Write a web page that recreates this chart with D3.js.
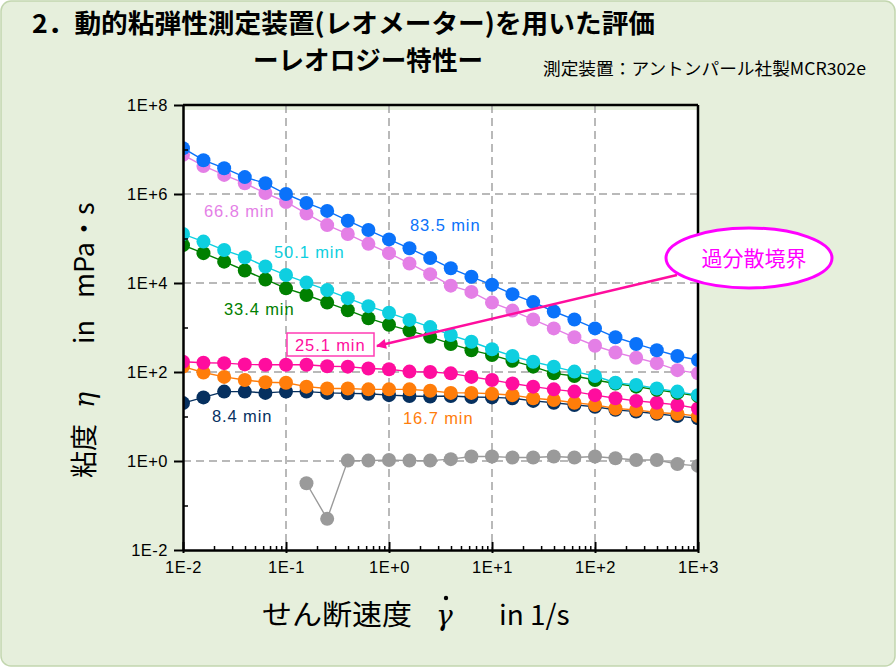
<!DOCTYPE html>
<html>
<head>
<meta charset="utf-8">
<script src="https://cdn.jsdelivr.net/npm/d3@7"></script>
<style>
  body { margin: 0; background: #fff; }
  svg { display: block; }
</style>
</head>
<body>
<svg id="chart" width="896" height="667"></svg>
<script>
// shear rate grid (1/s), 5 points per decade
const shearRate = [0.01, 0.0158, 0.0251, 0.0398, 0.0631, 0.1, 0.158, 0.251, 0.398, 0.631,
  1, 1.58, 2.51, 3.98, 6.31, 10, 15.8, 25.1, 39.8, 63.1, 100, 158, 251, 398, 631, 1000];

// viscosity (mPa·s), one array per elapsed time
const viscGray = [null, null, null, null, null, null, 0.316, 0.0501, 1.02, 1.02, 1.05, 1.02, 1.02,
  1.10, 1.26, 1.26, 1.20, 1.20, 1.26, 1.20, 1.26, 1.15, 1.05, 1.05, 0.851, 0.776];
const visc8_4 = [20.0, 26.9, 36.3, 36.3, 33.9, 36.3, 36.3, 33.9, 33.1, 32.4, 30.2, 28.8, 28.2,
  28.8, 27.5, 26.9, 25.7, 22.4, 20.4, 18.2, 16.6, 14.1, 12.9, 11.5, 10.2, 9.12];
const visc16_7 = [132, 97.7, 77.6, 66.1, 58.9, 57.5, 46.8, 42.7, 42.7, 40.7, 40.7, 40.7, 38.0,
  33.9, 33.9, 32.4, 30.2, 25.7, 23.4, 20.4, 18.2, 15.1, 14.1, 12.3, 11.5, 10.2];
const visc25_1 = [170, 162, 158, 148, 145, 145, 145, 135, 132, 120, 115, 102, 100,
  93.3, 77.6, 66.1, 55.0, 46.8, 40.7, 36.3, 30.2, 25.7, 22.4, 20.4, 18.2, 15.1];
const visc33_4 = [70800, 46800, 30200, 19100, 12000, 7590, 5370, 3630, 2450, 1620, 1150, 851, 617,
  427, 309, 240, 178, 132, 93.3, 81.3, 66.1, 55.0, 46.8, 39.8, 33.9, 28.8];
const visc50_1 = [126000, 85100, 55000, 38000, 23400, 15100, 10200, 6920, 4570, 3020, 2140, 1480, 1020,
  676, 479, 324, 229, 170, 132, 102, 81.3, 57.5, 51.3, 42.7, 36.3, 30.2];
const visc66_8 = [7590000, 4270000, 2690000, 1740000, 1050000, 661000, 363000, 200000, 126000, 75900, 46800, 27500, 15800,
  8710, 6310, 3630, 2400, 1510, 955, 603, 389, 275, 209, 158, 110, 93.3];
const visc83_5 = [10700000, 5750000, 3800000, 2400000, 1740000, 1000000, 631000, 417000, 251000, 155000, 95500, 60300, 36300,
  21400, 13800, 9120, 5620, 3720, 2290, 1510, 955, 603, 427, 309, 229, 186];

const seriesNames = ["", "8.4 min", "16.7 min", "25.1 min", "33.4 min", "50.1 min", "66.8 min", "83.5 min"];
const seriesValues = [viscGray, visc8_4, visc16_7, visc25_1, visc33_4, visc50_1, visc66_8, visc83_5];
const seriesColors = ["#9a9a9a", "#06305f", "#ff7d0a", "#ff0d9e", "#008000", "#0ecfe0", "#e47fe6", "#0a72fa"];

const xDecades = [0.01, 0.1, 1, 10, 100, 1000];
const yDecades = [1e-2, 1e-1, 1e0, 1e1, 1e2, 1e3, 1e4, 1e5, 1e6, 1e7, 1e8];

const pLeft = 183, pRight = 698, pTop = 105, pBottom = 550;

const svg = d3.select("#chart");

svg.append("rect")
  .attr("x", 1).attr("y", 1).attr("width", 894).attr("height", 665).attr("rx", 10)
  .attr("fill", "#e6efdc").attr("stroke", "#c2d6ae").attr("stroke-width", 1.5);

// titles
const jp = "'Noto Sans CJK JP', sans-serif";
svg.append("text").attr("x", 32).attr("y", 33)
  .attr("font-family", jp).attr("font-weight", "bold").attr("font-size", 26)
  .attr("textLength", 623).attr("lengthAdjust", "spacingAndGlyphs")
  .text("2．動的粘弾性測定装置(レオメーター)を用いた評価");
svg.append("text").attr("x", 253).attr("y", 70)
  .attr("font-family", jp).attr("font-weight", "bold").attr("font-size", 26)
  .attr("textLength", 230).attr("lengthAdjust", "spacingAndGlyphs")
  .text("ーレオロジー特性ー");
svg.append("text").attr("x", 543).attr("y", 75)
  .attr("font-family", jp).attr("font-size", 17)
  .attr("textLength", 323).attr("lengthAdjust", "spacingAndGlyphs")
  .text("測定装置：アントンパール社製MCR302e");

const x = d3.scaleLog().domain([0.01, 1000]).range([pLeft, pRight]);
const y = d3.scaleLog().domain([1e-2, 1e8]).range([pBottom, pTop]);

svg.append("rect")
  .attr("x", pLeft).attr("y", pTop + 5).attr("width", pRight - pLeft).attr("height", pBottom - pTop - 5)
  .attr("fill", "#fff");

// dashed grid
const grid = svg.append("g").attr("stroke", "#a3a3a3").attr("stroke-width", 1.5).attr("stroke-dasharray", "8,5");
grid.selectAll("line.gx").data(xDecades.slice(1, -1)).enter().append("line")
  .attr("x1", d => x(d)).attr("x2", d => x(d)).attr("y1", pTop).attr("y2", pBottom);
grid.selectAll("line.gy").data(yDecades.filter((d, i) => i % 2 == 0 && i > 0 && i < 10)).enter().append("line")
  .attr("y1", d => y(d)).attr("y2", d => y(d)).attr("x1", pLeft).attr("x2", pRight);

// series
const defs = svg.append("defs");
defs.append("clipPath").attr("id", "plotClip")
  .append("rect").attr("x", pLeft).attr("y", pTop).attr("width", pRight - pLeft).attr("height", pBottom - pTop);

const plot = svg.append("g").attr("clip-path", "url(#plotClip)");
const line = d3.line()
  .defined(d => d[1] != null)
  .x(d => x(d[0]))
  .y(d => y(d[1]));

seriesValues.forEach((vals, k) => {
  const pts = shearRate.map((r, i) => [r, vals[i]]);
  const g = plot.append("g");
  g.append("path").datum(pts)
    .attr("d", line).attr("fill", "none")
    .attr("stroke", seriesColors[k]).attr("stroke-width", 1.4);
  g.selectAll("circle").data(pts.filter(d => d[1] != null)).enter().append("circle")
    .attr("cx", d => x(d[0])).attr("cy", d => y(d[1])).attr("r", 7)
    .attr("fill", seriesColors[k]);
});

// axes
const fmt = d => {
  const e = Math.round(Math.log10(d));
  return "1E" + (e < 0 ? "-" : "+") + Math.abs(e);
};
const tickFont = "'Liberation Sans', Arial, sans-serif";

const xMinor = [];
xDecades.slice(0, -1).forEach(d => { for (let m = 2; m <= 9; m++) xMinor.push(d * m); });

svg.append("g").attr("transform", `translate(0,${pBottom})`)
  .call(d3.axisTop(x).tickValues(xMinor).tickSize(4).tickFormat(""))
  .call(g => g.select(".domain").remove())
  .call(g => g.selectAll("line").attr("stroke-width", 1.5));
svg.append("g").attr("transform", `translate(0,${pBottom})`)
  .call(d3.axisTop(x).tickValues(xDecades).tickSize(8).tickFormat(""))
  .call(g => g.select(".domain").remove())
  .call(g => g.selectAll("line").attr("stroke-width", 2));
svg.append("g").attr("transform", `translate(0,${pBottom})`)
  .call(d3.axisBottom(x).tickValues(xDecades).tickSize(3).tickSizeOuter(0).tickPadding(8).tickFormat(fmt))
  .call(g => g.select(".domain").attr("stroke-width", 2.5))
  .call(g => g.selectAll("line").attr("stroke-width", 2))
  .call(g => g.selectAll("text").attr("font-family", tickFont).attr("font-size", 16.5).attr("letter-spacing", 0.5).attr("fill", "#000"));

svg.append("g").attr("transform", `translate(${pLeft},0)`)
  .call(d3.axisRight(y).tickValues(yDecades.filter((d, i) => i % 2 == 1)).tickSize(5).tickFormat(""))
  .call(g => g.select(".domain").remove())
  .call(g => g.selectAll("line").attr("stroke-width", 1.5));
svg.append("g").attr("transform", `translate(${pLeft},0)`)
  .call(d3.axisLeft(y).tickValues(yDecades.filter((d, i) => i % 2 == 0)).tickSize(9).tickSizeOuter(0).tickPadding(6).tickFormat(fmt))
  .call(g => g.select(".domain").attr("stroke-width", 2.5))
  .call(g => g.selectAll("line").attr("stroke-width", 2))
  .call(g => g.selectAll("text").attr("font-family", tickFont).attr("font-size", 16.5).attr("letter-spacing", 0.5).attr("fill", "#000"));

// frame top/right
svg.append("line").attr("x1", pLeft).attr("x2", pRight).attr("y1", pTop).attr("y2", pTop)
  .attr("stroke", "#000").attr("stroke-width", 2.5);
svg.append("line").attr("x1", pRight).attr("x2", pRight).attr("y1", pTop).attr("y2", pBottom)
  .attr("stroke", "#000").attr("stroke-width", 2.5);

// series labels
const labelPos = [null, [212, 422], [403, 424], [295, 351], [224, 315], [274, 258], [204, 217], [410, 231]];
svg.append("rect").attr("x", 287).attr("y", 333).attr("width", 87).attr("height", 23)
  .attr("fill", "#fff").attr("stroke", "#ff3cb4").attr("stroke-width", 1.5);
seriesNames.forEach((name, k) => {
  if (!labelPos[k]) return;
  svg.append("text")
    .attr("x", labelPos[k][0]).attr("y", labelPos[k][1])
    .attr("font-family", tickFont).attr("font-size", 16.5).attr("letter-spacing", 0.9)
    .attr("fill", seriesColors[k])
    .text(name);
});

// callout
defs.append("marker")
  .attr("id", "arrow").attr("viewBox", "0 -5 10 10")
  .attr("refX", 9).attr("refY", 0)
  .attr("markerWidth", 12).attr("markerHeight", 10).attr("markerUnits", "userSpaceOnUse")
  .attr("orient", "auto")
  .append("path").attr("d", "M0,-5L10,0L0,5").attr("fill", "#ff0d9e");
svg.append("line").attr("x1", 677).attr("y1", 275).attr("x2", 377).attr("y2", 346)
  .attr("stroke", "#ff0d9e").attr("stroke-width", 2.5).attr("marker-end", "url(#arrow)");
svg.append("ellipse").attr("cx", 749).attr("cy", 258).attr("rx", 83).attr("ry", 30)
  .attr("fill", "#fff").attr("stroke", "#ff00ff").attr("stroke-width", 3);
svg.append("text").attr("x", 754).attr("y", 266).attr("text-anchor", "middle")
  .attr("font-family", jp).attr("font-size", 21).attr("fill", "#ff00ff")
  .text("過分散境界");

// axis titles
const yt = svg.append("text").attr("transform", "translate(94,478) rotate(-90)")
  .attr("font-family", jp).attr("font-size", 27).attr("fill", "#000");
yt.append("tspan").attr("x", 0).text("粘度");
yt.append("tspan").attr("x", 70).attr("font-style", "italic").attr("font-family", "'DejaVu Serif', serif").text("η");
yt.append("tspan").attr("x", 134).text("in");
yt.append("tspan").attr("x", 180).text("mPa・s");

svg.append("text").attr("x", 262).attr("y", 625)
  .attr("font-family", jp).attr("font-size", 28).attr("fill", "#000")
  .attr("textLength", 150).attr("lengthAdjust", "spacingAndGlyphs")
  .text("せん断速度");
svg.append("text").attr("x", 436).attr("y", 625)
  .attr("font-family", "'DejaVu Serif', serif").attr("font-style", "italic").attr("font-size", 28).attr("fill", "#000")
  .text("γ");
svg.append("circle").attr("cx", 446).attr("cy", 598).attr("r", 2.2).attr("fill", "#000");
svg.append("text").attr("x", 499).attr("y", 625)
  .attr("font-family", jp).attr("font-size", 28).attr("fill", "#000")
  .text("in 1/s");
</script>
</body>
</html>
